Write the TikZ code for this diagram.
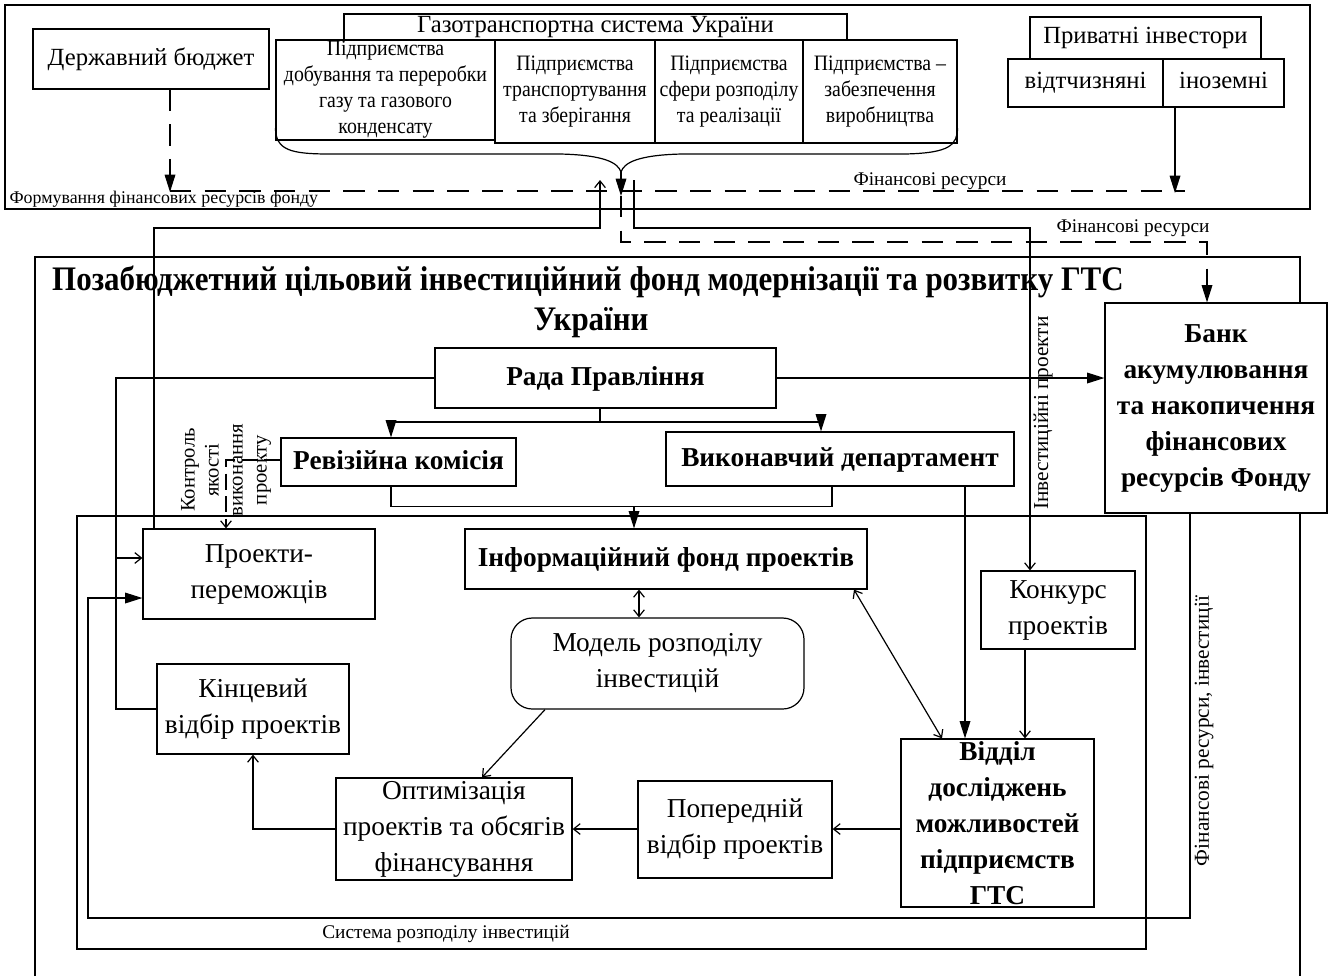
\documentclass[tikz,border=0pt]{standalone}
\usepackage{fontspec}
\setmainfont{Liberation Serif}
\newfontfamily\titlefont{Liberation Serif}[FakeStretch=0.9]
\newfontfamily\condfont{Liberation Serif}[FakeStretch=0.9]
\usetikzlibrary{arrows.meta,fit}
\newcommand\myB{\fontsize{20.5}{27}\selectfont}
\newcommand\myBB{\fontsize{20.5}{27}\selectfont\bfseries}
\newcommand\myH{\fontsize{18.5}{22}\selectfont}
\newcommand\myS{\condfont\fontsize{16.5}{19.5}\selectfont}
\newcommand\myL{\fontsize{14.5}{17}\selectfont}
\newcommand\myLs{\fontsize{13.4}{16}\selectfont}
\newcommand\myV{\fontsize{16}{19}\selectfont}
\newcommand\myK{\fontsize{15.5}{18}\selectfont}
\newcommand\myT{\titlefont\bfseries\fontsize{25.8}{31}\selectfont}
\tikzset{
  ln/.style={line width=0.9pt},
  box/.style={draw, line width=0.9pt, inner sep=0pt},
  t/.style={align=center, inner sep=0pt},
  fa/.style={-{Triangle[length=13pt,width=8pt]}},
  oa/.style={-{Straight Barb[length=5pt,width=8pt]}},
  oaa/.style={{Straight Barb[length=5pt,width=8pt]}-{Straight Barb[length=5pt,width=8pt]}},
  dsh/.style={dash pattern=on 16pt off 10pt},
  dshs/.style={dash pattern=on 12pt off 5pt},
}
\begin{document}
\begin{tikzpicture}[x=0.75pt,y=-0.75pt,line width=0.9pt]
\useasboundingbox (0,0) rectangle (1328,976);

% helper coordinates
\coordinate (fb) at (170,192);
\coordinate (fl) at (170,191);
\coordinate (fr) at (1185,191);
\coordinate (fi) at (1175,193);
\coordinate (brtip) at (621,172);
\coordinate (brend) at (621,196);
\coordinate (gin) at (600,180);
\coordinate (gout) at (634,180);
\coordinate (k1) at (154,228);
\coordinate (k2) at (634,228);
\coordinate (k3) at (1030,228);
\coordinate (d1) at (621,242);
\coordinate (d2) at (1207,242);
\coordinate (r1) at (600,422);
\coordinate (xrev) at (391,0);
\coordinate (xvyk) at (821,0);
\coordinate (x832) at (832,0);
\coordinate (m1) at (634,506);
\coordinate (cc) at (226,460);
\coordinate (x116) at (116,0);
\coordinate (c558) at (0,558);
\coordinate (x1190) at (1190,0);
\coordinate (x88) at (88,0);
\coordinate (c918) at (0,918);
\coordinate (c598) at (0,598);
\coordinate (x639) at (639,0);
\coordinate (x545) at (545,0);
\coordinate (x482) at (482,0);
\coordinate (x253) at (253,0);
\coordinate (x965) at (965,0);
\coordinate (x1025) at (1025,0);
\coordinate (x854) at (854,0);
\coordinate (x942) at (942,0);

% ---------- top frame ----------
\draw (5,5) rectangle (1310,209);
\node[box, fit={(33,29) (269,89)}, label={[t,font=\myH]center:{Державний бюджет}}] (budget) {};
\node[box, fit={(344,14) (847,40)}, label={[t,font=\myH]center:{Газотранспортна система України}}] (gts) {};
\node[box, fit={(276,40) (495,140)}, label={[t,font=\myS]center:{Підприємства\\добування та переробки\\газу та газового\\конденсату}}] (s1) {};
\node[box, fit={(495,40) (655,143)}, label={[t,font=\myS]center:{Підприємства\\транспортування\\та зберігання}}] (s2) {};
\node[box, fit={(655,40) (803,143)}, label={[t,font=\myS]center:{Підприємства\\сфери розподілу\\та реалізації}}] (s3) {};
\node[box, fit={(803,40) (957,143)}, label={[t,font=\myS]center:{Підприємства –\\забезпечення\\виробництва}}] (s4) {};
% brace under the enterprises
\draw (s1.west |- 0,128) .. controls (276,150) and (290,154) .. (330,154) -- (560,154)
  .. controls (605,155) and (618,163) .. (brtip)
  .. controls (624,163) and (637,155) .. (682,154) -- (905,154)
  .. controls (950,153) and (957,145) .. (s4.east |- 0,128);
\draw[fa] (brtip) -- (brend);

\node[box, fit={(1030,17) (1261,59)}, label={[t,font=\myH]center:{\strut Приватні інвестори}}] (inv) {};
\node[box, fit={(1008,59) (1163,107)}, label={[t,font=\myH]center:{\strut відтчизняні}}] (dom) {};
\node[box, fit={(1163,59) (1284,107)}, label={[t,font=\myH]center:{\strut іноземні}}] (frn) {};

\draw[dsh,fa] (budget.south -| fb) -- (fb);
\draw[fa] (frn.south -| fi) -- (fi);
\draw[dsh] (fl) -- (fr);
\node[t, font=\myLs, anchor=west] (lform) at (9,199) {Формування фінансових ресурсів фонду};
\node[t, font=\myL] (lfin1) at (930,181) {Фінансові ресурси};

% ---------- fund frame ----------
\draw (35,976) -- (35,257) -- (1300,257) -- (1300,976);
\node[t, font=\myT] (title1) at (588,282) {Позабюджетний цільовий інвестиційний фонд модернізації та розвитку ГТС};
\node[t, font=\myT] (title2) at (591,323) {України};

\node[box, fill=white, fit={(1105,303) (1327,513)}, label={[t,font=\myBB]center:{Банк\\акумулювання\\та накопичення\\фінансових\\ресурсів Фонду}}] (bank) {};
\node[box, fit={(435,348) (776,408)}, label={[t,font=\myBB]center:{\strut Рада Правління}}] (rada) {};
\node[box, fit={(281,438) (516,486)}, label={[t,font=\myBB]center:{\strut Ревізійна комісія}}] (rev) {};
\node[box, fit={(666,432) (1014,486)}, label={[t,font=\myBB]center:{\strut Виконавчий департамент}}] (vyk) {};

% ---------- system frame ----------
\draw (77,516) rectangle (1146,949);
\node[t, font=\myL] (lsys) at (446,934) {Система розподілу інвестицій};

\node[box, fit={(143,529) (375,619)}, label={[t,font=\myB]center:{Проекти-\\переможців}}] (proj) {};
\node[box, fit={(465,529) (867,589)}, label={[t,font=\myBB]center:{\strut Інформаційний фонд проектів}}] (inf) {};
\node[box, rounded corners=16pt, fit={(511,618) (804,709)}, label={[t,font=\myB]center:{Модель розподілу\\інвестицій}}] (model) {};
\node[box, fit={(981,571) (1135,649)}, label={[t,font=\myB]center:{Конкурс\\проектів}}] (konk) {};
\node[box, fit={(157,664) (349,754)}, label={[t,font=\myB]center:{Кінцевий\\відбір проектів}}] (kinc) {};
\node[box, fit={(336,778) (572,880)}, label={[t,font=\myB]center:{Оптимізація\\проектів та обсягів\\фінансування}}] (opt) {};
\node[box, fit={(638,781) (832,878)}, label={[t,font=\myB]center:{Попередній\\відбір проектів}}] (pop) {};
\node[box, fit={(901,739) (1094,907)}, label={[t,font=\myBB]center:{Відділ\\досліджень\\можливостей\\підприємств\\ГТС}}] (vid) {};

% ---------- connectors ----------
% investments from winners to GTS
\draw[oa] (proj.north -| k1) -- (k1) -- (k1 -| gin) -- (gin);
% investment projects from GTS to contest
\draw[oa] (gout) -- (k2) -- (k3) -- (konk.north -| k3);
\node[t, font=\myV, rotate=90] (linv) at (1043,413) {Інвестиційні проекти};
% financial resources to bank
\draw[dsh,fa] (brend) -- (d1) -- (d2) -- (bank.north -| d2);
\node[t, font=\myL] (lfin2) at (1133,228) {Фінансові ресурси};

\draw[fa] (rada.east) -- (bank.west |- rada.east);
\draw (rada.south -| r1) -- (r1);
\draw[fa] (r1) -| (rev.north -| xrev);
\draw[fa] (r1) -| (vyk.north -| xvyk);
\draw (rev.south -| xrev) -- ++(0,20) -| (vyk.south -| x832);
\draw[fa] (m1) -- (inf.north -| m1);

% quality control
\draw[dshs,oa] (rev.west |- cc) -- (cc) -- (proj.north -| cc);
\node[t, font=\myK, rotate=90] (lctrl) at (226,470) {Контроль\\якості\\виконання\\проекту};

% board to final selection / winners
\draw (kinc.west) -- (x116 |- kinc.west) -- (x116 |- rada.west) -- (rada.west);
\draw[oa] (x116 |- c558) -- (proj.west |- c558);

% financial resources, investments
\draw[fa] (bank.south -| x1190) -- (x1190 |- c918) -- (x88 |- c918) -- (x88 |- c598) -- (proj.west |- c598);
\node[t, font=\myV, rotate=90] (lfininv) at (1204,731) {Фінансові ресурси, інвестиції};

\draw[oaa] (inf.south -| x639) -- (model.north -| x639);
\draw[oa] (model.south -| x545) -- (opt.north -| x482);
\draw[oa] (opt.west) -- (x253 |- opt.west) -- (kinc.south -| x253);
\draw[oa] (pop.west |- opt.east) -- (opt.east);
\draw[oa] (vid.west |- opt.east) -- (pop.east |- opt.east);
\draw[fa] (vyk.south -| x965) -- (vid.north -| x965);
\draw[oa] (konk.south -| x1025) -- (vid.north -| x1025);
\draw[oaa] (inf.south -| x854) -- (vid.north -| x942);
\end{tikzpicture}
\end{document}
